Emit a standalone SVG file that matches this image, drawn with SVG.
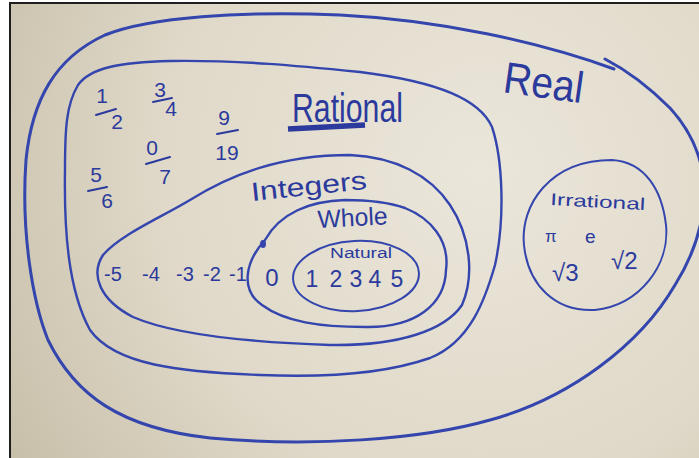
<svg xmlns="http://www.w3.org/2000/svg" width="699" height="458" viewBox="0 0 699 458">
<defs>
<radialGradient id="board" cx="480" cy="170" r="580" gradientUnits="userSpaceOnUse">
<stop offset="0" stop-color="#eae6da"/>
<stop offset="0.55" stop-color="#e0d9c9"/>
<stop offset="1" stop-color="#c4bca5"/>
</radialGradient>
<clipPath id="clip"><rect x="11" y="4" width="688" height="454"/></clipPath>
</defs>
<style>
.ln{fill:none;stroke:#3446ad;stroke-width:2.4;stroke-linecap:round;stroke-linejoin:round}
.t{font-family:"Liberation Sans","DejaVu Sans",Arial,sans-serif;fill:#2b3a9c}
.d{font-size:21px;text-anchor:middle}
.bar{stroke:#2b3a9c;stroke-width:2;stroke-linecap:round}
</style>
<rect width="699" height="458" fill="#ffffff"/>
<rect x="10" y="3" width="689" height="455" fill="url(#board)"/>
<path d="M10,458 V3 H699" fill="none" stroke="#1e1e1e" stroke-width="2"/>
<g clip-path="url(#clip)">
<g id="real">
<path class="ln" style="stroke-width:3" d="M614,69 C540,42 440,20 340,15 C240,11 150,17 105,35 C55,58 32,100 26,160 C21,230 32,300 48,340 C75,395 120,428 210,438 C310,447 420,440 490,420 C570,398 640,345 675,285 C692,258 702,230 704,200 C706,160 690,130 670,108 C650,88 630,72 605,59"/>
<text class="t" x="502" y="92" font-size="44" textLength="80" lengthAdjust="spacingAndGlyphs" transform="rotate(8 502 92)">Real</text>
</g>
<g id="rational">
<path class="ln" d="M360,72 C300,66 240,60 170,61 C120,62 90,68 78,85 C66,105 65,130 65,170 C64,230 68,290 90,330 C115,365 180,372 260,375 C330,378 390,372 430,358 C470,342 485,300 495,265 C505,220 503,160 492,127 C480,100 440,82 360,72 Z"/>
<text class="t" x="292" y="122" font-size="40" textLength="111" lengthAdjust="spacingAndGlyphs">Rational</text>
<line x1="288" y1="129" x2="365" y2="125" stroke="#2b3a9c" stroke-width="5.5"/>
<g id="frac-1-2"><text class="t d" x="102" y="103">1</text><line class="bar" x1="96" y1="115" x2="116" y2="109"/><text class="t d" x="117" y="129">2</text></g>
<g id="frac-3-4"><text class="t d" x="160" y="97">3</text><line class="bar" x1="153" y1="102" x2="172" y2="98"/><text class="t d" x="171" y="116">4</text></g>
<g id="frac-9-19"><text class="t d" x="224" y="125">9</text><line class="bar" x1="217" y1="134" x2="238" y2="130"/><text class="t d" x="227" y="160">19</text></g>
<g id="frac-0-7"><text class="t d" x="152" y="155">0</text><line class="bar" x1="146" y1="164" x2="170" y2="157"/><text class="t d" x="165" y="184">7</text></g>
<g id="frac-5-6"><text class="t d" x="96" y="182">5</text><line class="bar" x1="88" y1="191" x2="107" y2="187"/><text class="t d" x="107" y="208">6</text></g>
</g>
<g id="integers">
<path class="ln" d="M350,155 C280,155 230,175 190,200 C160,218 120,235 103,255 C90,275 100,300 133,317 C170,333 240,342 330,345 C400,346 445,330 462,305 C475,275 470,235 450,205 C430,175 395,157 350,155 Z"/>
<text class="t" x="252" y="201" font-size="26" textLength="116" lengthAdjust="spacingAndGlyphs" transform="rotate(-6 252 201)">Integers</text>
<text class="t" font-size="20" y="281"><tspan x="104">-5</tspan><tspan x="142">-4</tspan><tspan x="176">-3</tspan><tspan x="203">-2</tspan><tspan x="229">-1</tspan></text>
</g>
<g id="whole">
<path class="ln" d="M345,200 C310,201 280,213 265,240 C245,262 240,290 262,305 C285,322 320,327 365,327 C415,328 445,305 446,270 C450,240 430,218 405,208 C385,201 365,200 345,200 Z"/>
<ellipse cx="263" cy="244" rx="3" ry="4" fill="#3446ad"/>
<text class="t" x="318" y="228" font-size="25" textLength="70" lengthAdjust="spacingAndGlyphs" transform="rotate(-3 318 228)">Whole</text>
<text class="t" x="272" y="286" font-size="24" text-anchor="middle">0</text>
</g>
<g id="natural">
<ellipse class="ln" style="stroke-width:2" cx="356" cy="276" rx="63" ry="35" transform="rotate(-3 356 276)"/>
<text class="t" x="330" y="258" font-size="14" textLength="62" lengthAdjust="spacingAndGlyphs">Natural</text>
<text class="t" font-size="23" y="287" text-anchor="middle"><tspan x="312">1</tspan><tspan x="336">2</tspan><tspan x="356">3</tspan><tspan x="375">4</tspan><tspan x="397">5</tspan></text>
</g>
<g id="irrational">
<path class="ln" style="stroke-width:2" d="M612,160 C645,162 662,190 666,225 C670,265 640,305 595,310 C555,312 528,285 524,245 C520,205 550,160 612,160 Z"/>
<text class="t" x="550" y="205" font-size="17" textLength="95" lengthAdjust="spacingAndGlyphs" transform="rotate(3 550 205)">Irrational</text>
<text class="t" x="545" y="242" font-size="17">π</text>
<text class="t" x="585" y="243" font-size="19">e</text>
<text class="t" x="552" y="281" font-size="24">√3</text>
<text class="t" x="611" y="269" font-size="24">√2</text>
</g>
</g>
</svg>
